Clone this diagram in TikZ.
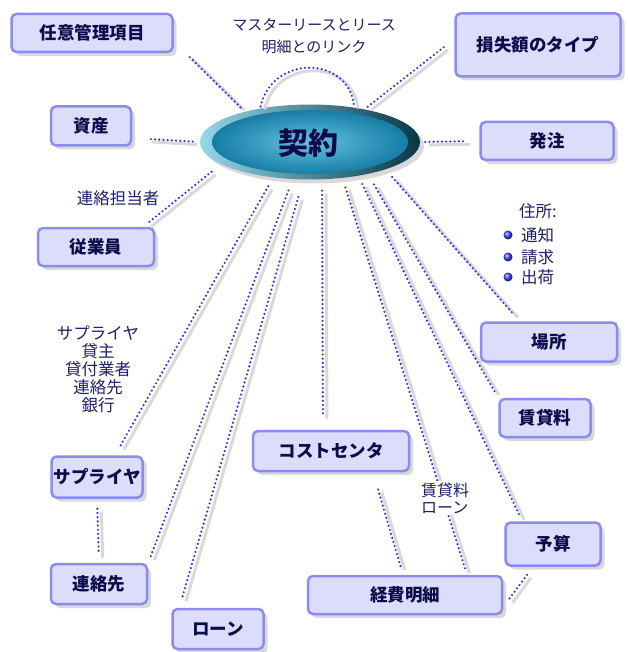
\documentclass[tikz,border=0pt]{standalone}
\usepackage{fontspec}
\newfontfamily\jp{Noto Sans CJK JP}
\usepackage{tikz}
\usetikzlibrary{shadows}
\usetikzlibrary{positioning}
\usetikzlibrary{shapes}
\definecolor{boxfill}{RGB}{220,221,250}
\definecolor{boxline}{RGB}{140,140,238}
\definecolor{boxtext}{RGB}{12,12,75}
\definecolor{lbltext}{RGB}{30,30,105}
\definecolor{linkblue}{RGB}{45,45,245}
\definecolor{rimlight}{RGB}{150,215,232}
\definecolor{rimdark}{RGB}{8,55,70}
\definecolor{coreinner}{RGB}{100,195,225}
\definecolor{coreouter}{RGB}{22,125,165}
\tikzstyle{entity}=[rectangle,rounded corners=5pt,draw=boxline,fill=boxfill,line width=2.5pt,inner sep=0pt,font=\jp\bfseries\fontsize{17.5}{19}\selectfont,text=boxtext,drop shadow={opacity=0.3,shadow xshift=4pt,shadow yshift=-4pt}]
\tikzstyle{contractrim}=[ellipse,minimum width=220pt,minimum height=75pt,inner sep=0pt,left color=rimlight,right color=rimdark,drop shadow={opacity=0.3,shadow xshift=4pt,shadow yshift=-4pt}]
\tikzstyle{contracttext}=[font=\jp\bfseries\fontsize{30}{32}\selectfont,text=boxtext]
\tikzstyle{lbl}=[font=\jp\fontsize{16.5}{18}\selectfont,text=lbltext,inner sep=0pt,align=center]
\tikzstyle{link}=[draw=linkblue,line width=2.4pt,line cap=round,dash pattern=on 0pt off 4.2pt,preaction={draw=black!15,solid,line width=3pt,transform canvas={xshift=4pt,yshift=-3pt}}]
\tikzstyle{bullet}=[circle,shading=ball,ball color=blue!75,minimum size=9pt,inner sep=0pt]
\begin{document}
\begin{tikzpicture}[x=1pt,y=-1pt]
    \useasboundingbox (0,0) rectangle (627,652);
    % First we draw the contract ellipse
    \node[contractrim] (contract) at (310,142) {};
    \shade[inner color=coreinner,outer color=coreouter] (contract.center) ellipse (98pt and 32pt);
    \node[contracttext] (contractlbl) at (308,143) {契約};

    % the boxes round it
    \foreach \pos/\name/\boxw/\boxh/\boxtxt in {{(92,33)/item/161pt/38pt/任意管理項目}, {(91,126)/asset/80pt/39pt/資産}, {(96,247)/staff/116pt/38pt/従業員}, {(538,45)/loss/165pt/63pt/損失額のタイプ}, {(547,141)/order/133pt/38pt/発注}, {(549,342)/place/136pt/39pt/場所}, {(545,418)/rent/91pt/38pt/賃貸料}, {(331,451)/cost/156pt/40pt/コストセンタ}, {(553,544)/budget/95pt/43pt/予算}, {(405,595)/expense/194pt/38pt/経費明細}, {(97,477)/supplier/91pt/41pt/サプライヤ}, {(99,584)/contact/96pt/40pt/連絡先}, {(218,629)/loan/91pt/40pt/ローン}}
        \node[entity,minimum width=\boxw,minimum height=\boxh] (\name) at \pos {\boxtxt};

    % links from the contract
    \path[link,shorten <=6pt,shorten >=3pt] (contract.155) -- ([xshift=12pt]item.south east);
    \path[link,shorten <=2pt,shorten >=2pt] (contract.146) .. controls (272,55) and (348,55) .. (contract.38);
    \path[link,shorten <=4pt,shorten >=13pt] (contract.31) -- ([yshift=6pt]loss.west);
    \path[link,shorten <=5pt,shorten >=13pt] (contract.east) -- (order.west);
    \path[link,shorten <=7pt,shorten >=16pt] (contract.west) -- ([yshift=-12pt]asset.east);
    \path[link,shorten <=12pt,shorten >=5pt] (contract.194) -- ([xshift=-12pt]staff.north east);
    \path[link,shorten <=10pt,shorten >=10pt] (contract.224) -- ([xshift=18pt]supplier.north);
    \path[link,shorten <=12pt,shorten >=6pt] (contract.245) -- (contact.north east);
    \path[link,shorten <=18pt,shorten >=10pt] (contract.260) -- ([xshift=8pt]loan.north west);
    \path[link,shorten <=11pt,shorten >=14pt] ([xshift=12pt]contract.south) -- ([xshift=-8pt]cost.north);
    \path[link,shorten <=10pt,shorten >=5pt] (contract.312) -- ([xshift=62pt]expense.north);
    \path[link,shorten <=9pt,shorten >=5pt] (contract.325) -- ([xshift=18pt]budget.north west);
    \path[link,shorten <=12pt,shorten >=7pt] (contract.331) -- (rent.north west);
    \path[link,shorten <=10pt,shorten >=9pt] (contract.340) -- ([xshift=40pt]place.north west);
    % links between the boxes
    \path[link,shorten <=18pt,shorten >=8pt] ([xshift=42pt]cost.south) -- ([xshift=-2pt]expense.north);
    \path[link,shorten <=10pt,shorten >=9pt] ([xshift=-20pt]budget.south) -- ([yshift=-12pt]expense.east);
    \path[link,shorten <=10pt,shorten >=8pt] (supplier.south) -- (contact.north);

    % labels
    \node[lbl,font=\jp\fontsize{15}{22}\selectfont] (masterlbl) at (314,36) {マスターリースとリース\\明細とのリンク};
    \node[lbl] (contactlbl) at (118,198) {連絡担当者};
    \node[lbl] (supplierlbl) at (98,369) {サプライヤ\\貸主\\貸付業者\\連絡先\\銀行};
    \node[lbl,font=\jp\fontsize{16}{17}\selectfont,anchor=west,align=left,fill=white,inner sep=2pt] (rentlbl) at (419,498) {賃貸料\\ローン};
    \node[lbl,anchor=west] (addr) at (519,211) {住所:};
    \foreach \y/\name/\addrtxt in {235/notice/通知, 257/bill/請求, 277/ship/出荷} {
        \node[bullet] (b\name) at (508,\y) {};
        \node[lbl,anchor=west] (\name) at (521,\y) {\addrtxt};
    }
\end{tikzpicture}
\end{document}
